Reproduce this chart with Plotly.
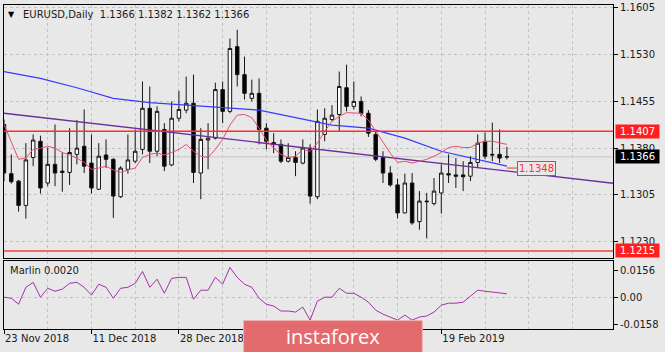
import plotly.graph_objects as go

# ---------------- data ----------------
symbol = "EURUSD,Daily"
bars = list(range(70))
date_ticks = [0, 12, 24, 36, 48, 60]
# labels at bars 36 and 48 are hidden under the watermark in the original
date_labels = ["23 Nov 2018", "11 Dec 2018", "28 Dec 2018", "", "", "19 Feb 2019"]

opens = [1.1418, 1.1339, 1.1327, 1.1288, 1.1365, 1.1391, 1.1324, 1.1354, 1.1343, 1.1341,
         1.1370, 1.1383, 1.1356, 1.1314, 1.1369, 1.1362, 1.1302, 1.1346, 1.1359, 1.1378,
         1.1444, 1.1375, 1.1410, 1.1353, 1.1428, 1.1441, 1.1452, 1.1340, 1.1393, 1.1396,
         1.1474, 1.1439, 1.1543, 1.1498, 1.1460, 1.1468, 1.1412, 1.1389, 1.1386, 1.1359,
         1.1365, 1.1356, 1.1380, 1.1302, 1.1402, 1.1426, 1.1434, 1.1477, 1.1447, 1.1455,
         1.1436, 1.1402, 1.1365, 1.1340, 1.1321, 1.1276, 1.1324, 1.1262, 1.1295, 1.1291,
         1.1308, 1.1339, 1.1337, 1.1337, 1.1335, 1.1357, 1.1391, 1.1370, 1.1370, 1.1366]
highs = [1.1426, 1.1370, 1.1329, 1.1388, 1.1402, 1.1400, 1.1381, 1.1418, 1.1373, 1.1412,
         1.1425, 1.1442, 1.1402, 1.1388, 1.1394, 1.1364, 1.1351, 1.1402, 1.1410, 1.1487,
         1.1479, 1.1447, 1.1420, 1.1455, 1.1472, 1.1495, 1.1498, 1.1412, 1.1420, 1.1485,
         1.1487, 1.1556, 1.1570, 1.1527, 1.1490, 1.1492, 1.1420, 1.1404, 1.1394, 1.1388,
         1.1375, 1.1394, 1.1386, 1.1442, 1.1444, 1.1449, 1.1503, 1.1514, 1.1487, 1.1463,
         1.1441, 1.1407, 1.1375, 1.1351, 1.1331, 1.1339, 1.1340, 1.1311, 1.1308, 1.1332,
         1.1354, 1.1370, 1.1364, 1.1359, 1.1367, 1.1402, 1.1405, 1.1421, 1.1410, 1.1382]
lows = [1.1327, 1.1323, 1.1278, 1.1267, 1.1351, 1.1307, 1.1319, 1.1319, 1.1310, 1.1321,
        1.1354, 1.1340, 1.1307, 1.1313, 1.1348, 1.1268, 1.1300, 1.1339, 1.1356, 1.1370,
        1.1356, 1.1367, 1.1343, 1.1351, 1.1423, 1.1436, 1.1324, 1.1298, 1.1346, 1.1394,
        1.1420, 1.1436, 1.1479, 1.1458, 1.1455, 1.1386, 1.1378, 1.1372, 1.1356, 1.1357,
        1.1335, 1.1354, 1.1291, 1.1298, 1.1391, 1.1423, 1.1407, 1.1439, 1.1442, 1.1431,
        1.1398, 1.1359, 1.1324, 1.1318, 1.1267, 1.1275, 1.1257, 1.1249, 1.1235, 1.1288,
        1.1275, 1.1324, 1.1316, 1.1311, 1.1327, 1.1348, 1.1362, 1.1359, 1.1356, 1.1362]
closes = [1.1340, 1.1326, 1.1288, 1.1361, 1.1393, 1.1316, 1.1354, 1.1340, 1.1341, 1.1373,
          1.1380, 1.1351, 1.1316, 1.1367, 1.1362, 1.1303, 1.1348, 1.1361, 1.1375, 1.1444,
          1.1375, 1.1439, 1.1351, 1.1428, 1.1442, 1.1452, 1.1341, 1.1394, 1.1396, 1.1474,
          1.1439, 1.1540, 1.1498, 1.1468, 1.1468, 1.1410, 1.1391, 1.1386, 1.1359, 1.1365,
          1.1357, 1.1380, 1.1303, 1.1423, 1.1428, 1.1433, 1.1479, 1.1447, 1.1455, 1.1436,
          1.1404, 1.1362, 1.1340, 1.1321, 1.1276, 1.1324, 1.1260, 1.1295, 1.1294, 1.1311,
          1.1340, 1.1337, 1.1335, 1.1334, 1.1357, 1.1388, 1.1367, 1.1369, 1.1364, 1.1366]

fast_ma = [1.1418, 1.1391, 1.1362, 1.1364, 1.1378, 1.1380, 1.1383, 1.1380, 1.1373, 1.1369,
           1.1364, 1.1357, 1.1346, 1.1348, 1.1351, 1.1345, 1.1341, 1.1345, 1.1348, 1.1365,
           1.1370, 1.1372, 1.1369, 1.1373, 1.1378, 1.1386, 1.1375, 1.1367, 1.1365, 1.1378,
           1.1394, 1.1417, 1.1433, 1.1434, 1.1429, 1.1412, 1.1393, 1.1380, 1.1370, 1.1365,
           1.1367, 1.1378, 1.1375, 1.1388, 1.1407, 1.1423, 1.1431, 1.1437, 1.1437, 1.1436,
           1.1425, 1.1407, 1.1388, 1.1372, 1.1357, 1.1359, 1.1356, 1.1359, 1.1362, 1.1367,
           1.1373, 1.1381, 1.1383, 1.1381, 1.1381, 1.1388, 1.1391, 1.1391, 1.1388, 1.1386]

slow_ma_x = [0, 5, 10, 15, 20, 25, 30, 35, 40, 45, 50, 55, 60, 65, 69]
slow_ma = [1.1503, 1.1492, 1.1477, 1.1460, 1.1453, 1.1449, 1.1444, 1.1441, 1.1429, 1.1417,
           1.1412, 1.1396, 1.1375, 1.1362, 1.1351]

trend_x = [0, 20, 40, 60, 84]
trend = [1.1436, 1.1409, 1.1382, 1.1356, 1.1323]

marlin = [0.0000, -0.0006, -0.0041, 0.0058, 0.0087, 0.0000, 0.0052, 0.0035, 0.0047, 0.0081,
          0.0087, 0.0058, 0.0012, 0.0076, 0.0058, -0.0006, 0.0052, 0.0058, 0.0081, 0.0151,
          0.0058, 0.0105, 0.0023, 0.0110, 0.0116, 0.0116, -0.0012, 0.0041, 0.0041, 0.0116,
          0.0076, 0.0174, 0.0116, 0.0076, 0.0058, -0.0006, -0.0041, -0.0052, -0.0081, -0.0081,
          -0.0087, -0.0058, -0.0134, -0.0023, 0.0000, 0.0000, 0.0052, 0.0023, 0.0023, 0.0000,
          -0.0029, -0.0076, -0.0099, -0.0116, -0.0134, -0.0105, -0.0134, -0.0116, -0.0110, -0.0087,
          -0.0047, -0.0035, -0.0035, -0.0029, 0.0006, 0.0041, 0.0035, 0.0029, 0.0025, 0.0020]

price_ticks = [1.1230, 1.1305, 1.1380, 1.1455, 1.1530, 1.1605]
marlin_ticks = [0.0156, 0.0, -0.0158]
marlin_tick_text = ["0.0156", "0.00", "-0.0158"]
resistance = 1.1407
support = 1.1215
target = 1.1348

# ---------------- style ----------------
BG = "#e8e8e8"
GRID = "#c2c2c2"
FONT = "DejaVu Sans"
FS = 10

fig = go.Figure()

fig.add_trace(go.Candlestick(
    x=bars, open=opens, high=highs, low=lows, close=closes,
    xaxis="x", yaxis="y", whiskerwidth=0,
    increasing=dict(line=dict(color="#151515", width=1), fillcolor="white"),
    decreasing=dict(line=dict(color="#151515", width=1), fillcolor="black"),
    showlegend=False, hoverinfo="skip"))

fig.add_trace(go.Scatter(x=trend_x, y=trend, mode="lines", xaxis="x", yaxis="y",
                         line=dict(color="#6b2d9f", width=1.3), showlegend=False, hoverinfo="skip"))
fig.add_trace(go.Scatter(x=slow_ma_x, y=slow_ma, mode="lines", xaxis="x", yaxis="y",
                         line=dict(color="#3a3aff", width=1.2), showlegend=False, hoverinfo="skip"))
fig.add_trace(go.Scatter(x=bars, y=fast_ma, mode="lines", xaxis="x", yaxis="y",
                         line=dict(color="#e4506e", width=1), showlegend=False, hoverinfo="skip"))

fig.add_trace(go.Scatter(x=bars, y=marlin, mode="lines", xaxis="x2", yaxis="y2",
                         line=dict(color="#a431a8", width=1), showlegend=False, hoverinfo="skip"))

# last-bar target marker line
fig.add_trace(go.Scatter(x=[bars[-1], bars[-1] + 1.4], y=[target, target], mode="lines",
                         xaxis="x", yaxis="y", line=dict(color="#ff3030", width=1),
                         showlegend=False, hoverinfo="skip", cliponaxis=False))

x_max = 83.56
grid_vals = list(range(0, 84, 6))

fig.update_layout(
    width=665, height=352,
    margin=dict(l=3, r=52, t=3, b=23),
    paper_bgcolor=BG, plot_bgcolor=BG,
    font=dict(family=FONT, size=FS, color="#1a1a1a"),
    boxgap=0.32,
    xaxis=dict(domain=[0, 1], range=[0, x_max], anchor="y",
               tickvals=grid_vals, showticklabels=False, ticks="",
               showgrid=True, gridcolor=GRID, griddash="3px,3px", gridwidth=1,
               showline=True, mirror=True, linecolor="#000", linewidth=1,
               zeroline=False, rangeslider=dict(visible=False), fixedrange=True),
    yaxis=dict(domain=[0.2178, 1], range=[1.12029, 1.16098], anchor="x", side="right",
               tickvals=price_ticks, ticktext=[f"{v:.4f}" for v in price_ticks],
               ticks="outside", ticklen=4, tickcolor="#000", ticklabeloverflow="allow",
               showgrid=True, gridcolor=GRID, griddash="3px,3px",
               showline=True, mirror=True, linecolor="#000", linewidth=1,
               zeroline=False, tickfont=dict(size=FS)),
    xaxis2=dict(domain=[0, 1], range=[0, x_max], anchor="y2", matches="x",
                tickvals=date_ticks, ticktext=date_labels,
                ticks="outside", ticklen=4, tickcolor="#000",
                ticklabelposition="outside right",
                showgrid=True, gridcolor=GRID, griddash="3px,3px",
                minor=dict(tickvals=grid_vals, showgrid=True, gridcolor=GRID,
                           griddash="3px,3px", ticklen=0),
                showline=True, mirror=True, linecolor="#000", linewidth=1,
                zeroline=False, tickfont=dict(size=FS)),
    yaxis2=dict(domain=[0, 0.2086], range=[-0.0186, 0.02093], anchor="x2", side="right",
                tickvals=marlin_ticks, ticktext=marlin_tick_text,
                ticks="outside", ticklen=4, tickcolor="#000", showgrid=False,
                ticklabeloverflow="allow",
                minor=dict(tickvals=[0.0], showgrid=True, gridcolor=GRID,
                           griddash="3px,3px", ticklen=0),
                showline=True, mirror=True, linecolor="#000", linewidth=1,
                zeroline=False, tickfont=dict(size=FS)),
)

# horizontal levels
fig.add_shape(type="line", xref="x domain", yref="y", x0=0, x1=1, y0=closes[-1], y1=closes[-1],
              line=dict(color="#c6c6c6", width=1), layer="below")
fig.add_shape(type="line", xref="x domain", yref="y", x0=0, x1=1, y0=resistance, y1=resistance,
              line=dict(color="#ff2d2d", width=1.5), layer="above")
fig.add_shape(type="line", xref="x domain", yref="y", x0=0, x1=1, y0=support, y1=support,
              line=dict(color="#f06a6a", width=2), layer="above")

# price labels on the right axis
for val, bg in [(resistance, "#ff1f1f"), (closes[-1], "#000000"), (support, "#ff1f1f")]:
    fig.add_annotation(xref="paper", yref="y", x=1, y=val, xanchor="left", yanchor="middle",
                       text=f"{val:.4f}", showarrow=False, bgcolor=bg,
                       font=dict(color="white", size=FS, family=FONT),
                       borderpad=1, xshift=2, width=41, height=11, align="center")

# target label
fig.add_annotation(xref="x", yref="y", x=bars[-1] + 1.4, y=target, xanchor="left", yanchor="middle",
                   text=f"{target:.4f}", showarrow=False, bgcolor=BG,
                   bordercolor="#ff3030", borderwidth=1, borderpad=1,
                   font=dict(color="#ff3030", size=FS, family=FONT))

# title
fig.add_annotation(xref="paper", yref="paper", x=0.0115, y=0.9705, xanchor="center", yanchor="middle",
                   text="▼", showarrow=False, font=dict(size=8, color="#000"))
fig.add_annotation(xref="paper", yref="paper", x=0.0275, y=0.9705, xanchor="left", yanchor="middle",
                   text=f"{symbol}  {opens[-1]:.4f} {highs[-1]:.4f} {lows[-1]:.4f} {closes[-1]:.4f}",
                   showarrow=False, font=dict(size=FS, color="#1a1a1a", family=FONT))

# indicator label
fig.add_annotation(xref="paper", yref="paper", x=0.0066, y=0.181, xanchor="left", yanchor="middle",
                   text=f"Marlin {marlin[-1]:.4f}", showarrow=False,
                   font=dict(size=FS, color="#1a1a1a", family=FONT))

# watermark
fig.add_shape(type="rect", xref="paper", yref="paper", x0=0.3934, x1=0.6869, y0=-0.075, y1=0.026,
              fillcolor="#e36b6e", line=dict(color="#f2b0b0", width=1), layer="above")
fig.add_annotation(xref="paper", yref="paper", x=0.5395, y=-0.022, xanchor="center", yanchor="middle",
                   text="instaforex", showarrow=False,
                   font=dict(size=20, color="white", family="Open Sans"))

fig.write_html("out.html")
